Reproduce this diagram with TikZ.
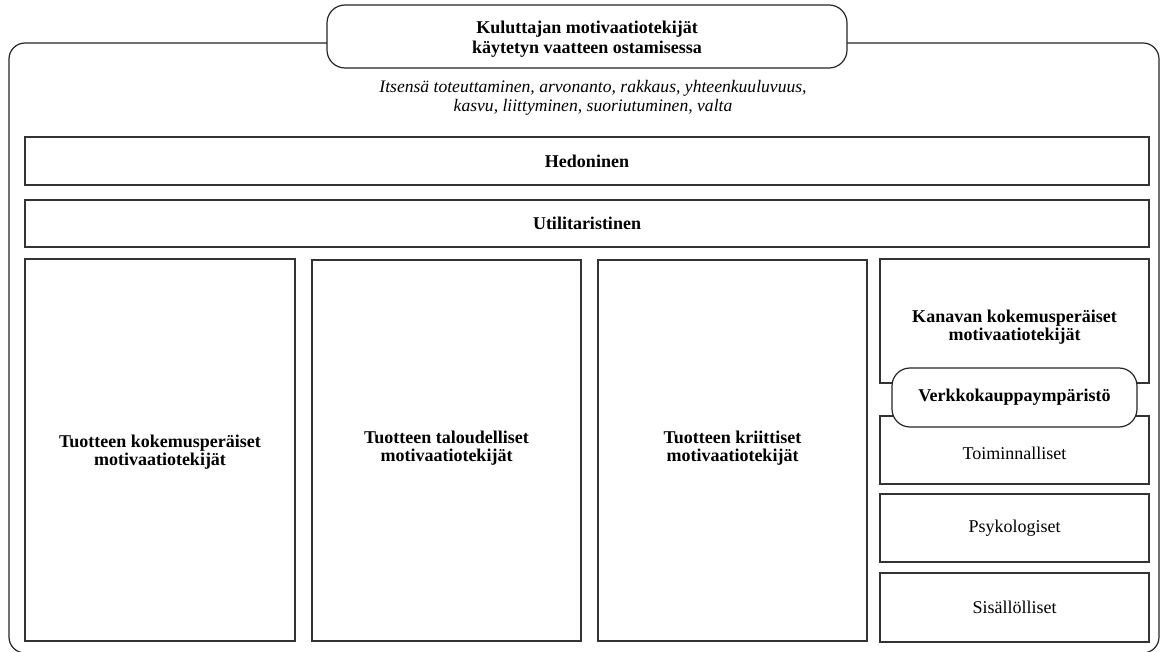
\documentclass[tikz,border=0pt]{standalone}
\usepackage{fontspec}
\setmainfont{Liberation Serif}
\begin{document}
\begin{tikzpicture}[x=1pt,y=-1pt,
  box/.style={draw=black!80,line width=1.3pt,rectangle,inner sep=0pt},
  pill/.style={draw=black!85,line width=1.2pt,rounded corners=18pt,fill=white,inner sep=0pt},
  bigtxt/.style={font=\fontsize{18}{18.5}\selectfont\bfseries,align=center},
  smalltxt/.style={font=\fontsize{18}{18.5}\selectfont,align=center}]
\useasboundingbox (0,0) rectangle (1160,652);
\fill[white] (0,0) rectangle (1160,652);
% outer frame, running off the page on the right and at the bottom
\begin{scope}
\clip (0,0) rectangle (1160,652);
\draw[black!85,line width=1.2pt,rounded corners=16pt] (9,43) rectangle (1159,653);
\end{scope}
% heading
\node[pill,minimum width=520pt,minimum height=63pt] (title) at (587,36.5) {};
\node[font=\fontsize{18}{20}\selectfont\bfseries,align=center] (titlet) at (587,39.5)
  {Kuluttajan motivaatiotekijät\\käytetyn vaatteen ostamisessa};
\node[font=\fontsize{17.6}{19}\selectfont\itshape,align=center] (values) at (593,98)
  {Itsensä toteuttaminen, arvonanto, rakkaus, yhteenkuuluvuus,\\kasvu, liittyminen, suoriutuminen, valta};
% full-width bands
\node[box,minimum width=1124pt,minimum height=48pt,bigtxt] (hed) at (587,161) {Hedoninen};
\node[box,minimum width=1124pt,minimum height=47pt,bigtxt] (uti) at (587,223.5) {Utilitaristinen};
% product columns
\node[box,minimum width=270pt,minimum height=382pt] (c1) at (160,450) {};
\node[bigtxt] (c1t) at (160,452) {Tuotteen kokemusperäiset\\motivaatiotekijät};
\node[box,minimum width=269pt,minimum height=381pt] (c2) at (446.5,450.5) {};
\node[bigtxt] (c2t) at (446.5,448) {Tuotteen taloudelliset\\motivaatiotekijät};
\node[box,minimum width=269pt,minimum height=381pt] (c3) at (732.5,450.5) {};
\node[bigtxt] (c3t) at (732.5,448) {Tuotteen kriittiset\\motivaatiotekijät};
% channel column
\node[box,minimum width=269pt,minimum height=124pt] (kan) at (1014.5,321) {};
\node[bigtxt] (kant) at (1014.5,327) {Kanavan kokemusperäiset\\motivaatiotekijät};
\node[box,minimum width=269pt,minimum height=68pt] (toi) at (1014.5,450) {};
\node[smalltxt] (toit) at (1014.5,453) {Toiminnalliset};
\node[box,minimum width=269pt,minimum height=68pt,smalltxt] (psy) at (1014.5,528) {Psykologiset};
\node[box,minimum width=269pt,minimum height=69pt,smalltxt] (sis) at (1014.5,607.5) {Sisällölliset};
\node[pill,minimum width=245pt,minimum height=59pt,bigtxt] (verk) at (1014.5,397.5) {Verkkokauppaympäristö};
\end{tikzpicture}
\end{document}
